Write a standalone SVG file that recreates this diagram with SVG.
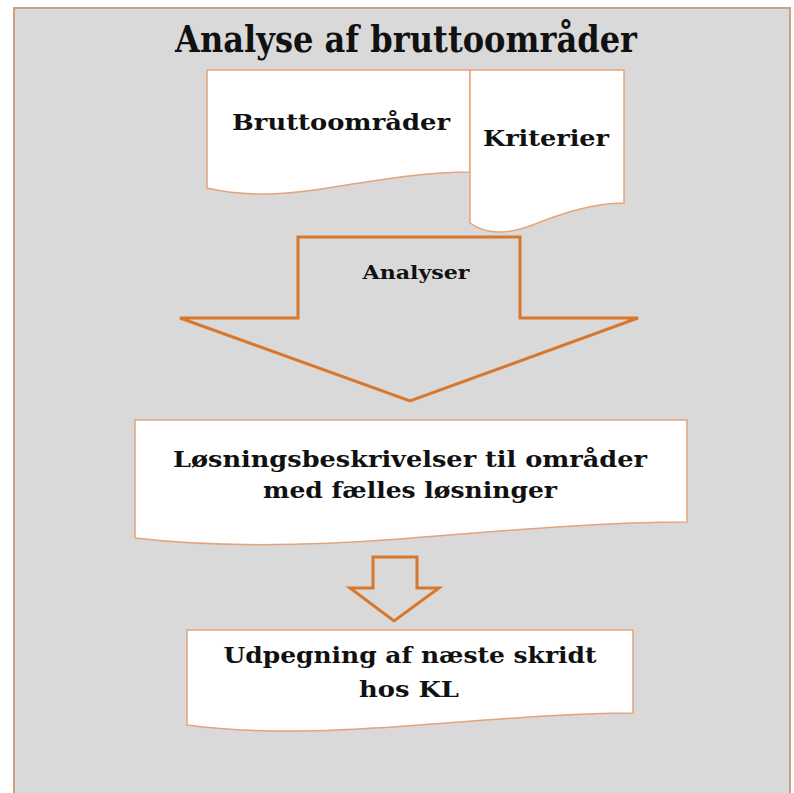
<svg xmlns="http://www.w3.org/2000/svg" width="794" height="793" viewBox="0 0 794 793">
<style>
.doc{fill:#ffffff;stroke:#e3a479;stroke-width:1.5}
.arrow{fill:#d9d9d9;stroke:#d8782f;stroke-width:3;stroke-linejoin:miter}
.t{font-family:"DejaVu Serif","Liberation Serif",serif;font-weight:bold;fill:#111111;text-anchor:middle}
</style>
<rect width="794" height="793" fill="#ffffff"/>
<g id="frame">
<rect x="14" y="8" width="776" height="800" fill="#d9d9d9" stroke="#c9a184" stroke-width="2"/>
<text class="t" x="406" y="52" font-size="37" font-family="Liberation Serif" textLength="462" lengthAdjust="spacingAndGlyphs">Analyse af bruttoområder</text>
</g>
<g id="bruttoomraader">
<path class="doc" d="M207,70 L470,70 L470,172 C430,172 390,178 340,186 C300,193 255,199 207,188 Z"/>
<text class="t" x="341" y="130" font-size="23" textLength="218" lengthAdjust="spacingAndGlyphs">Bruttoområder</text>
</g>
<g id="kriterier">
<path class="doc" d="M470,70 L624,70 L624,203 C592,203 560,214 530,226 C505,235 485,234 470,223 Z"/>
<text class="t" x="546" y="146" font-size="23" textLength="126" lengthAdjust="spacingAndGlyphs">Kriterier</text>
</g>
<g id="analyser">
<path class="arrow" d="M298,237 L520,237 L520,318 L638,318 L410,401 L180,318 L298,318 Z"/>
<text class="t" x="416" y="279" font-size="19" textLength="107" lengthAdjust="spacingAndGlyphs">Analyser</text>
</g>
<g id="loesningsbeskrivelser">
<path class="doc" d="M135,420 L687,420 L687,522 C600,522 500,531 400,539 C320,545 220,548 135,538 Z"/>
<text class="t" x="410" y="467" font-size="23" textLength="474" lengthAdjust="spacingAndGlyphs">Løsningsbeskrivelser til områder</text>
<text class="t" x="410" y="498" font-size="23" textLength="294" lengthAdjust="spacingAndGlyphs">med fælles løsninger</text>
</g>
<g id="connectors">
<path class="arrow" d="M373,557 L417,557 L417,588 L439,588 L394,621 L350,588 L373,588 Z"/>
</g>
<g id="udpegning">
<path class="doc" d="M187,630 L633,630 L633,713 C570,713 500,719 420,725 C340,731 260,735 187,725 Z"/>
<text class="t" x="410" y="663" font-size="23" textLength="373" lengthAdjust="spacingAndGlyphs">Udpegning af næste skridt</text>
<text class="t" x="409" y="697" font-size="23" textLength="100" lengthAdjust="spacingAndGlyphs">hos KL</text>
</g>
</svg>
